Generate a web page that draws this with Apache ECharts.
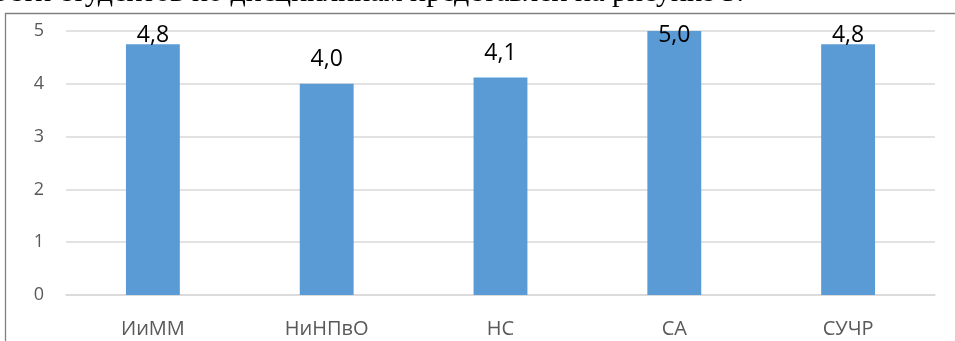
<!DOCTYPE html>
<html>
<head>
<meta charset="utf-8">
<script src="https://cdn.jsdelivr.net/npm/echarts@6/dist/echarts.min.js"></script>
<style>
  html, body { margin: 0; padding: 0; background: #fff; }
  #chart { width: 955px; height: 341px; }
</style>
</head>
<body>
<div id="chart"></div>
<script>
// Mean grade per discipline
const categories = ['ИиММ', 'НиНПвО', 'НС', 'СА', 'СУЧР'];
const grades = [4.75, 4.0, 4.12, 5.0, 4.75];
const yTicks = [0, 1, 2, 3, 4, 5];
const captionText = 'ости студентов по дисциплинам представлен на рисунке 5.';

const fmt = v => (Math.round(v * 10) / 10).toFixed(1).replace('.', ',');

const chart = echarts.init(document.getElementById('chart'), null, { renderer: 'canvas' });

const labelGap = 13;

function buildOption(offsets) {
  return {
    animation: false,
    backgroundColor: '#ffffff',
    grid: { left: 66, right: 20, top: 31, bottom: 46, containLabel: false },
    graphic: [
      {
        // running text of the page above the chart frame
        type: 'text', left: -7, top: -22, silent: true, z: -20,
        style: { text: captionText, font: '30px "Liberation Serif", serif', fill: '#000' }
      },
      {
        // chart frame background hides what runs below the frame edge
        type: 'rect', silent: true, z: -10,
        shape: { x: 0, y: 12, width: 955, height: 329 },
        style: { fill: '#ffffff' }
      },
      {
        type: 'polyline', silent: true, z: -5,
        shape: { points: [[5.5, 341], [5.5, 13.5], [955, 13.5]] },
        style: { stroke: '#808080', lineWidth: 1.3, fill: null }
      }
    ],
    xAxis: {
      type: 'category',
      data: categories,
      axisLine: { lineStyle: { color: '#d9d9d9', width: 1.5 } },
      axisTick: { show: false },
      axisLabel: { color: '#595959', fontFamily: 'Open Sans', fontSize: 20, margin: 24 }
    },
    yAxis: {
      type: 'value',
      min: yTicks[0],
      max: yTicks[yTicks.length - 1],
      interval: 1,
      axisLine: { show: false },
      axisTick: { show: false },
      splitLine: { lineStyle: { color: '#d9d9d9', width: 1.5 } },
      axisLabel: { color: '#595959', fontFamily: 'Open Sans', fontSize: 18, margin: 22 }
    },
    series: [{
      type: 'bar',
      barWidth: '31%',
      itemStyle: { color: '#5b9bd5' },
      data: grades.map((v, i) => ({
        value: v,
        label: { offset: [0, offsets ? offsets[i] : 0] }
      })),
      label: {
        show: true,
        position: 'top',
        distance: labelGap,
        color: '#000',
        fontFamily: 'Open Sans',
        fontSize: 23,
        formatter: p => fmt(p.value)
      }
    }]
  };
}

chart.setOption(buildOption(null));

// Keep value labels inside the plot area: push down any label that would rise above it
const plotTop = chart.convertToPixel({ yAxisIndex: 0 }, yTicks[yTicks.length - 1]);
const minLabelBottom = plotTop + 16;
const offsets = grades.map(v => {
  const barTop = chart.convertToPixel({ yAxisIndex: 0 }, v);
  const bottom = barTop - labelGap;
  return bottom < minLabelBottom ? minLabelBottom - bottom : 0;
});
chart.setOption(buildOption(offsets));
</script>
</body>
</html>
